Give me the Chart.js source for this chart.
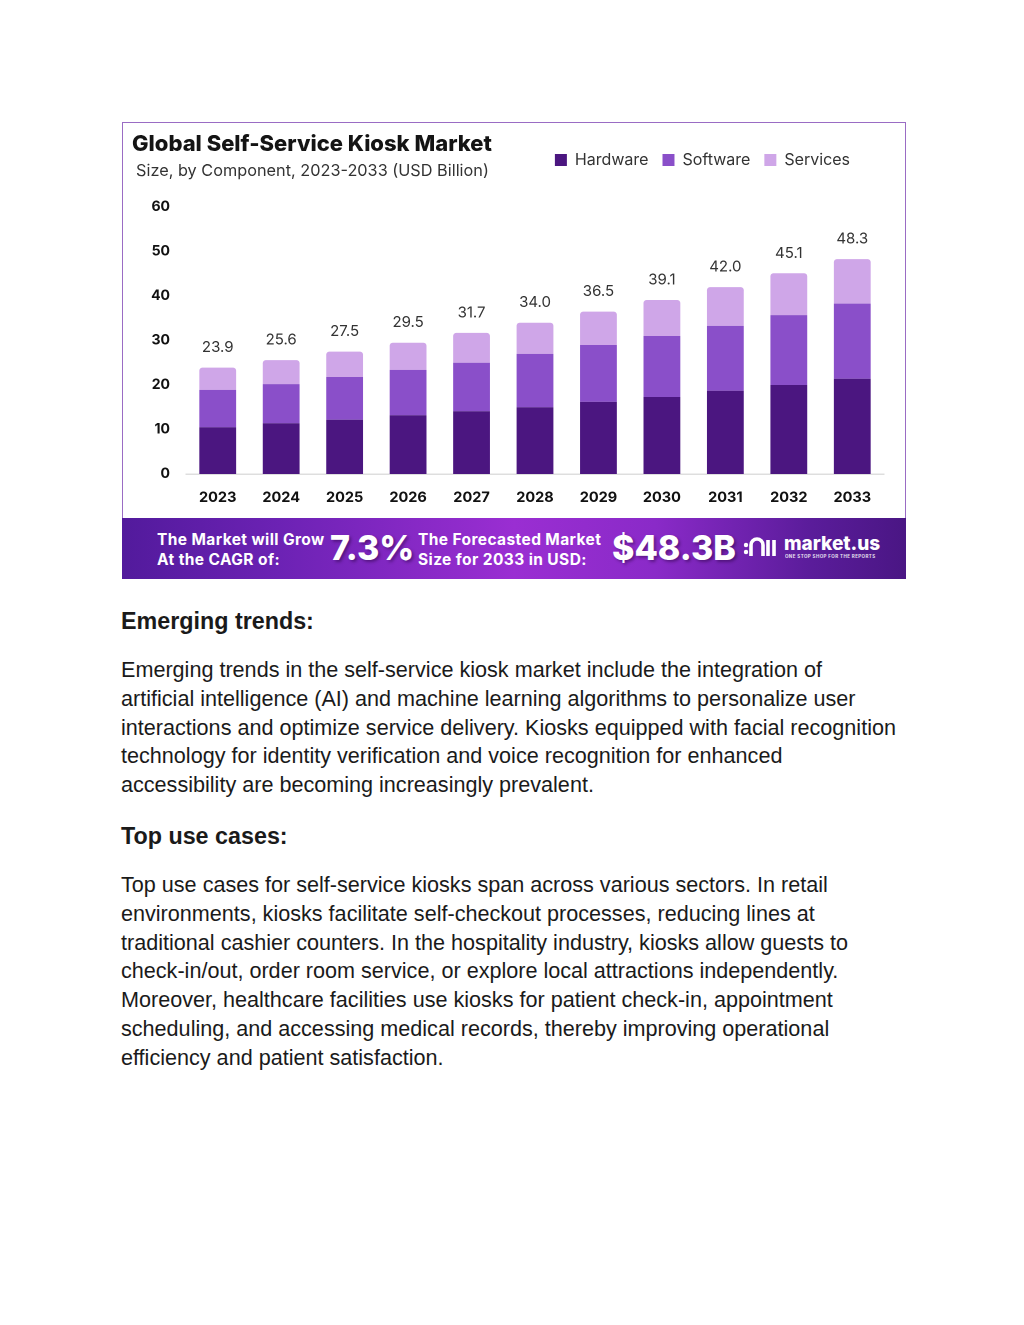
<!DOCTYPE html>
<html>
<head>
<meta charset="utf-8">
<script src="https://cdn.jsdelivr.net/npm/chart.js@4.4.1/dist/chart.umd.min.js"></script>
<style>
  html, body { margin: 0; padding: 0; background: #fff; }
  body { width: 1024px; height: 1325px; position: relative; overflow: hidden; }
  .box { position: absolute; left: 122px; top: 122px; width: 782px; height: 455px; border: 1.5px solid #9a6cc4; }
  #chart { position: absolute; left: 122px; top: 122px; }
  .title { position: absolute; left: 132px; top: 130px; font: 800 22px Inter, sans-serif; color: #141414; letter-spacing: 0px; white-space: nowrap; }
  .subtitle { position: absolute; left: 136px; top: 160px; font: 400 16.3px Inter, sans-serif; color: #333; white-space: nowrap; }
  .banner { position: absolute; left: 122px; top: 518px; width: 784px; height: 61px;
    background: linear-gradient(90deg, #521a9c 0%, #6c22b4 20%, #9a2ed2 50%, #8a2ac8 68%, #5a1c9a 88%, #4a1684 100%); color: #fff; }
  .banner div { position: absolute; white-space: nowrap; }
  .small { font: 700 15.5px Inter, sans-serif; line-height: 20px; letter-spacing: 0.4px; }
  .big { font: 800 34px Inter, sans-serif; line-height: 40px; text-shadow: 2px 2px 3px rgba(40,0,60,0.45); }
  .logo { font: 800 19px Inter, sans-serif; line-height: 20px; }
  .tag { font: 700 4.5px Inter, sans-serif; letter-spacing: 0.4px; opacity: 0.85; }
  .text { position: absolute; left: 121px; font-family: "Liberation Sans", Arial, sans-serif; color: #1a1a1a; white-space: nowrap; }
  .h { font-size: 23.3px; font-weight: 700; line-height: 22px; }
  .p { font-size: 21.6px; line-height: 28.75px; }
</style>
</head>
<body>
<div class="box"></div>
<canvas id="chart" width="784" height="396"></canvas>
<div class="title">Global Self-Service Kiosk Market</div>
<div class="subtitle">Size, by Component, 2023-2033 (USD Billion)</div>

<div class="banner">
  <div class="small" style="left:35px; top:12px;">The Market will Grow<br>At the CAGR of:</div>
  <div class="big" style="left:208px; top:10px;">7.3%</div>
  <div class="small" style="left:296px; top:12px;">The Forecasted Market<br>Size for 2033 in USD:</div>
  <div class="big" style="left:490px; top:10px;">$48.3B</div>
  <div style="left:620px; top:14px;">
    <svg width="36" height="30" viewBox="0 0 36 30">
      <circle cx="4" cy="13" r="2.2" fill="#fff"/>
      <circle cx="4" cy="20" r="2.2" fill="#fff"/>
      <path d="M9 24 V13 a6 6 0 0 1 12 0 V24" fill="none" stroke="#fff" stroke-width="3.6"/>
      <path d="M26 8 V24 M32 8 V24" fill="none" stroke="#fff" stroke-width="3.6"/>
    </svg>
  </div>
  <div class="logo" style="left:662px; top:16px;">market.us</div>
  <div class="tag" style="left:663px; top:36px;">ONE STOP SHOP FOR THE REPORTS</div>
</div>

<div class="text h" style="top:610px;">Emerging trends:</div>
<div class="text p" style="top:656px;">Emerging trends in the self-service kiosk market include the integration of<br>artificial intelligence (AI) and machine learning algorithms to personalize user<br>interactions and optimize service delivery. Kiosks equipped with facial recognition<br>technology for identity verification and voice recognition for enhanced<br>accessibility are becoming increasingly prevalent.</div>
<div class="text h" style="top:825px;">Top use cases:</div>
<div class="text p" style="top:871px;">Top use cases for self-service kiosks span across various sectors. In retail<br>environments, kiosks facilitate self-checkout processes, reducing lines at<br>traditional cashier counters. In the hospitality industry, kiosks allow guests to<br>check-in/out, order room service, or explore local attractions independently.<br>Moreover, healthcare facilities use kiosks for patient check-in, appointment<br>scheduling, and accessing medical records, thereby improving operational<br>efficiency and patient satisfaction.</div>

<script>
// Market size by component (USD Billion)
const years = ['2023', '2024', '2025', '2026', '2027', '2028', '2029', '2030', '2031', '2032', '2033'];
const hardware = [10.5, 11.4, 12.2, 13.2, 14.1, 15.0, 16.2, 17.3, 18.7, 20.0, 21.4];
const software = [8.4, 8.8, 9.6, 10.2, 10.9, 12.0, 12.8, 13.7, 14.6, 15.7, 16.9];
const services = [5.0, 5.4, 5.7, 6.1, 6.7, 7.0, 7.5, 8.1, 8.7, 9.4, 10.0];
const totals = [23.9, 25.6, 27.5, 29.5, 31.7, 34.0, 36.5, 39.1, 42.0, 45.1, 48.3];
const yTicks = [0, 10, 20, 30, 40, 50, 60];

const colors = {
    hardware: '#4b1680',
    software: '#8a4fc9',
    services: '#cfa6e8'
};

const FONT = 'Inter, "Noto Sans", sans-serif';

// Totals above each stack
const totalLabelsPlugin = {
    id: 'totalLabels',
    afterDatasetsDraw(chart) {
        const ctx = chart.ctx;
        const meta = chart.getDatasetMeta(2);
        ctx.save();
        ctx.font = '400 15px ' + FONT;
        ctx.fillStyle = '#333';
        ctx.textAlign = 'center';
        ctx.textBaseline = 'middle';
        meta.data.forEach((bar, i) => {
            ctx.fillText(totals[i].toFixed(1), bar.x, bar.y - 20);
        });
        ctx.restore();
    }
};

// Legend sits at the top right, level with the subtitle
const legendTweak = {
    id: 'legendTweak',
    beforeInit(chart) {
        const fit = chart.legend.fit;
        chart.legend.fit = function () {
            fit.call(this);
            this.height = 69;
        };
    },
    afterLayout(chart) {
        chart.legend.right -= 20;
    }
};

new Chart(document.getElementById('chart'), {
    type: 'bar',
    data: {
        labels: years,
        datasets: [
            { label: 'Hardware', data: hardware, backgroundColor: colors.hardware },
            { label: 'Software', data: software, backgroundColor: colors.software },
            {
                label: 'Services', data: services, backgroundColor: colors.services,
                borderRadius: { topLeft: 3, topRight: 3 }, borderSkipped: 'bottom'
            }
        ]
    },
    options: {
        responsive: false,
        animation: false,
        devicePixelRatio: 2,
        layout: { padding: { top: 16, right: 22, bottom: 0, left: 0 } },
        datasets: { bar: { categoryPercentage: 1, barPercentage: 0.58 } },
        plugins: {
            legend: {
                position: 'top',
                align: 'end',
                labels: {
                    boxWidth: 12,
                    boxHeight: 12,
                    padding: 14,
                    color: '#333',
                    font: { size: 16, family: FONT }
                }
            },
            tooltip: { enabled: false }
        },
        scales: {
            x: {
                stacked: true,
                afterFit(scale) { scale.height = 44; },
                grid: { display: false, drawTicks: false },
                border: { display: true, color: '#dedede', width: 1.5 },
                ticks: { color: '#111', padding: 15, font: { size: 14.5, weight: '700', family: FONT } }
            },
            y: {
                stacked: true,
                min: 0,
                max: 60,
                afterBuildTicks(scale) { scale.ticks = yTicks.map(v => ({ value: v })); },
                afterFit(scale) { scale.width = 64; },
                grid: { display: false, drawTicks: false },
                border: { display: false },
                ticks: { color: '#111', padding: 16, font: { size: 14, weight: '700', family: FONT } }
            }
        }
    },
    plugins: [totalLabelsPlugin, legendTweak]
});
</script>
</body>
</html>
